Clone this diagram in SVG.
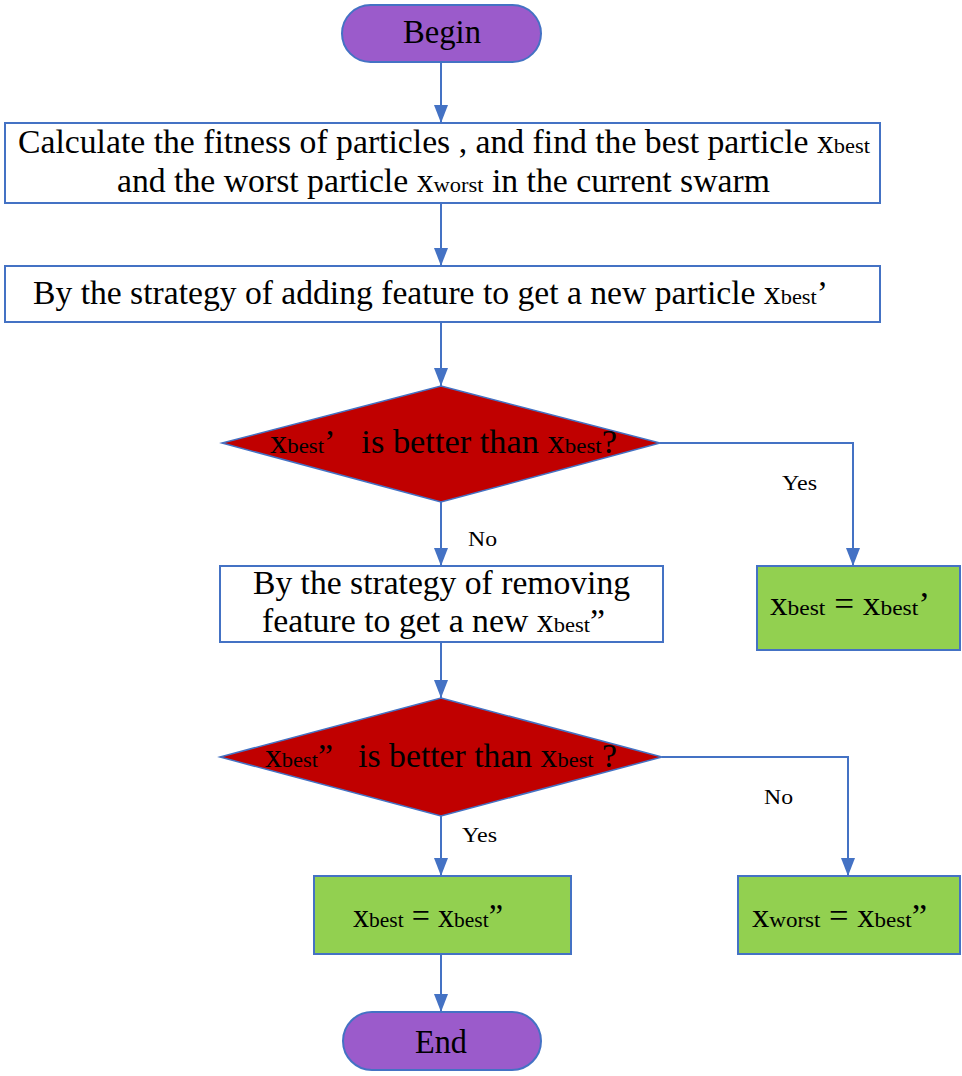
<svg xmlns="http://www.w3.org/2000/svg" width="962" height="1076" viewBox="0 0 962 1076">
<defs>
<style>
.t{font-family:"Liberation Serif","Times New Roman",serif;font-size:33px;fill:#000}
.s{font-size:22px}
.l{font-family:"Liberation Serif","Times New Roman",serif;font-size:22px;fill:#000}
.box{fill:#fff;stroke:#4472C4;stroke-width:2}
.term{fill:#9B5BCB;stroke:#4472C4;stroke-width:2}
.dia{fill:#C00000;stroke:#4472C4;stroke-width:1.5}
.grn{fill:#92D050;stroke:#4472C4;stroke-width:2}
.c{fill:none;stroke:#4472C4;stroke-width:2}
</style>
<marker id="ah" viewBox="0 0 10 10" refX="10" refY="5" markerWidth="18" markerHeight="14" markerUnits="userSpaceOnUse" orient="auto" preserveAspectRatio="none">
<path d="M0,0 L10,5 L0,10 z" fill="#4472C4"/>
</marker>
</defs>
<rect width="962" height="1076" fill="#fff"/>
<g id="connectors">
<path class="c" d="M441,62 V123" marker-end="url(#ah)"/>
<path class="c" d="M441,203 V266" marker-end="url(#ah)"/>
<path class="c" d="M441,322 V386" marker-end="url(#ah)"/>
<path class="c" d="M441,502 V566" marker-end="url(#ah)"/>
<path class="c" d="M660,443 H853 V566" marker-end="url(#ah)"/>
<path class="c" d="M441,642 V698" marker-end="url(#ah)"/>
<path class="c" d="M441,816 V876" marker-end="url(#ah)"/>
<path class="c" d="M662,757 H848 V876" marker-end="url(#ah)"/>
<path class="c" d="M441,954 V1012" marker-end="url(#ah)"/>
<text class="l" x="782" y="490" textLength="35" lengthAdjust="spacingAndGlyphs">Yes</text>
<text class="l" x="468" y="546" textLength="29" lengthAdjust="spacingAndGlyphs">No</text>
<text class="l" x="764" y="804" textLength="29" lengthAdjust="spacingAndGlyphs">No</text>
<text class="l" x="462" y="842" textLength="35" lengthAdjust="spacingAndGlyphs">Yes</text>
</g>
<g id="begin">
<rect class="term" x="342" y="5" width="199" height="57" rx="28.5"/>
<text class="t" x="403" y="43" textLength="78" lengthAdjust="spacingAndGlyphs">Begin</text>
</g>
<g id="calc">
<rect class="box" x="5" y="123" width="875" height="80"/>
<text class="t" x="18" y="153" textLength="852" lengthAdjust="spacingAndGlyphs">Calculate the fitness of particles , and find the best particle x<tspan class="s">best</tspan></text>
<text class="t" x="117" y="192" textLength="653" lengthAdjust="spacingAndGlyphs">and the worst particle x<tspan class="s">worst</tspan> in the current swarm</text>
</g>
<g id="adding">
<rect class="box" x="5" y="266" width="875" height="56"/>
<text class="t" x="33" y="304" textLength="795" lengthAdjust="spacingAndGlyphs">By the strategy of adding feature to get a new particle x<tspan class="s">best</tspan>’</text>
</g>
<g id="decision1">
<polygon class="dia" points="441,386 660,443 441,502 222,443"/>
<text class="t" x="270" y="453" textLength="347" lengthAdjust="spacingAndGlyphs">x<tspan class="s">best</tspan>’&#160;&#160; is better than x<tspan class="s">best</tspan>?</text>
</g>
<g id="removing">
<rect class="box" x="220" y="566" width="443" height="76"/>
<text class="t" x="253" y="594" textLength="377" lengthAdjust="spacingAndGlyphs">By the strategy of removing</text>
<text class="t" x="262" y="632" textLength="343" lengthAdjust="spacingAndGlyphs">feature to get a new x<tspan class="s">best</tspan>”</text>
</g>
<g id="assign1">
<rect class="grn" x="757" y="566" width="203" height="84"/>
<text class="t" x="770" y="615" textLength="160" lengthAdjust="spacingAndGlyphs">x<tspan class="s">best</tspan> = x<tspan class="s">best</tspan>’</text>
</g>
<g id="decision2">
<polygon class="dia" points="441,698 662,757 441,816 220,757"/>
<text class="t" x="265" y="767" textLength="352" lengthAdjust="spacingAndGlyphs">x<tspan class="s">best</tspan>”&#160;&#160; is better than x<tspan class="s">best</tspan> ?</text>
</g>
<g id="assign2">
<rect class="grn" x="314" y="876" width="257" height="78"/>
<text class="t" x="353" y="927" textLength="150" lengthAdjust="spacingAndGlyphs">x<tspan class="s">best</tspan> = x<tspan class="s">best</tspan>”</text>
</g>
<g id="assign3">
<rect class="grn" x="738" y="876" width="222" height="78"/>
<text class="t" x="752" y="927" textLength="175" lengthAdjust="spacingAndGlyphs">x<tspan class="s">worst</tspan> = x<tspan class="s">best</tspan>”</text>
</g>
<g id="end">
<rect class="term" x="343" y="1012" width="198" height="58" rx="29"/>
<text class="t" x="415" y="1053" textLength="52" lengthAdjust="spacingAndGlyphs">End</text>
</g>
</svg>
